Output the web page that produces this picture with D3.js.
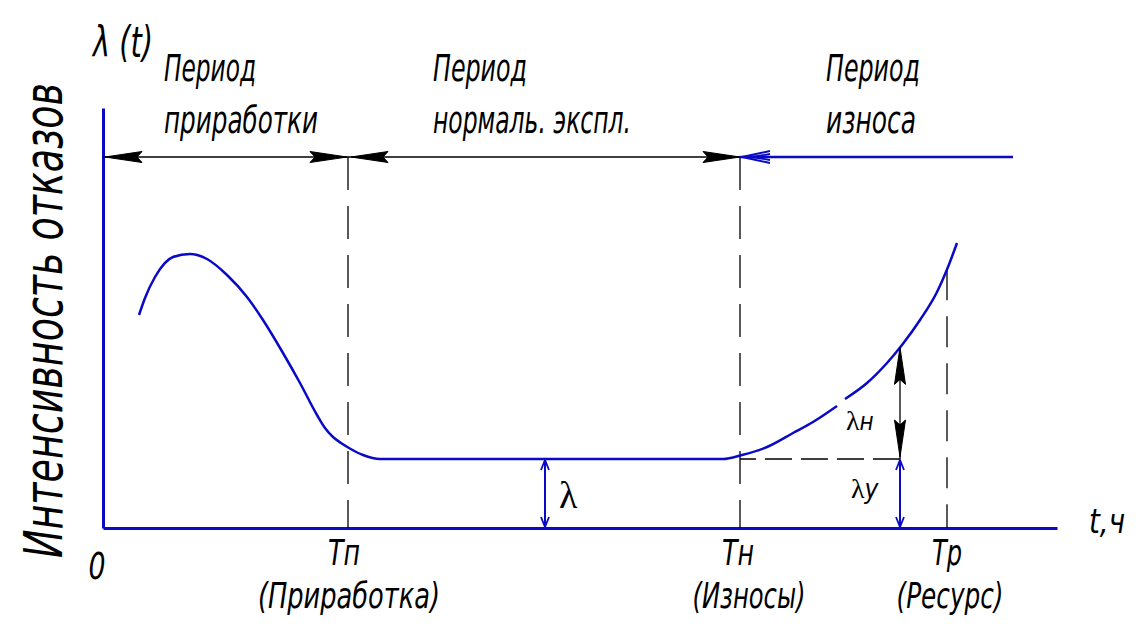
<!DOCTYPE html>
<html>
<head>
<meta charset="utf-8">
<script src="https://cdn.jsdelivr.net/npm/d3@7"></script>
<style>
  body { margin: 0; background: #fff; }
  text { font-family: "Liberation Sans Narrow", "DejaVu Sans Condensed", sans-serif; font-stretch: condensed; font-style: italic; fill: #000; }
  .greek { font-family: "Liberation Serif", "DejaVu Serif", serif; font-style: normal; font-stretch: normal; }
</style>
</head>
<body>
<svg id="chart"></svg>
<script>
// bathtub curve, time in hours (arbitrary units), failure rate in arbitrary units
const hours = [36, 42, 52, 70, 87, 104, 124, 144, 160, 180, 197, 214, 222, 230, 238, 246, 260, 277, 620, 639, 664, 690, 710, 734, 742, 764, 784, 799, 817, 834, 845, 854];
const rate  = [213, 230, 251, 271, 274, 269, 253, 231, 208, 175, 145, 113, 100, 91, 85, 80, 73, 69, 69, 73, 81, 95, 106, 122, 129, 145, 165, 183, 208, 236, 261, 285];
const gapAfter = 23; // the curve is broken between these two points

const marks = [0, 245, 637, 844];
const markNames = ["0", "Тп", "Тн", "Тр"];
const markNotes = ["", "(Приработка)", "(Износы)", "(Ресурс)"];

const periodTitles = ["Период", "Период", "Период"];
const periodNotes = ["приработки", "нормаль. экспл.", "износа"];

const lambdaLevel = 69;
const periodLevel = 371;
const wearEnd = 910;
const lambdaAt = 442;
const wearCheckAt = 797;

const blue = "#0a0ac6";
const W = 1147, H = 636;

const svg = d3.select("#chart").attr("width", W).attr("height", H);

const x = d3.scaleLinear().domain([0, 954]).range([103, 1057]);
const y = d3.scaleLinear().domain([0, 420]).range([528, 108]);

const rateAt = t => {
  const i = d3.bisectLeft(hours, t);
  if (i <= 0) return rate[0];
  if (i >= hours.length) return rate[rate.length - 1];
  const k = (t - hours[i - 1]) / (hours[i] - hours[i - 1]);
  return rate[i - 1] + k * (rate[i] - rate[i - 1]);
};

// axes
svg.append("g")
  .attr("transform", `translate(0,${y(0)})`)
  .call(d3.axisBottom(x).ticks(0).tickSizeOuter(0))
  .select(".domain").attr("stroke", blue).attr("stroke-width", 3);
svg.append("g")
  .attr("transform", `translate(${x(0)},0)`)
  .call(d3.axisLeft(y).ticks(0).tickSizeOuter(0))
  .select(".domain").attr("stroke", blue).attr("stroke-width", 3);

// dashed guide lines
const dash = "33,16";
[marks[1], marks[2]].forEach(t => {
  svg.append("line")
    .attr("x1", x(t)).attr("x2", x(t))
    .attr("y1", y(periodLevel)).attr("y2", y(0))
    .attr("stroke", "#000").attr("stroke-width", 1.3)
    .attr("stroke-dasharray", dash);
});
svg.append("line")
  .attr("x1", x(marks[3])).attr("x2", x(marks[3]))
  .attr("y1", y(rateAt(marks[3]))).attr("y2", y(0))
  .attr("stroke", "#000").attr("stroke-width", 1.3)
  .attr("stroke-dasharray", "31,16");
svg.append("line")
  .attr("x1", x(wearCheckAt)).attr("x2", x(marks[2]))
  .attr("y1", y(lambdaLevel)).attr("y2", y(lambdaLevel))
  .attr("stroke", "#000").attr("stroke-width", 1.3)
  .attr("stroke-dasharray", "27,9");

// period dimension line
svg.append("line")
  .attr("x1", x(0)).attr("x2", x(marks[2]))
  .attr("y1", y(periodLevel)).attr("y2", y(periodLevel))
  .attr("stroke", "#000").attr("stroke-width", 1.3);
svg.append("line")
  .attr("x1", x(marks[2])).attr("x2", x(wearEnd))
  .attr("y1", y(periodLevel)).attr("y2", y(periodLevel))
  .attr("stroke", blue).attr("stroke-width", 2.5);

const bigArrow = (px, py, angle) => {
  svg.append("path")
    .attr("d", "M0,0 L-37,-5.5 L-32,0 L-37,5.5 Z")
    .attr("transform", `translate(${px},${py}) rotate(${angle})`)
    .attr("fill", "#000").attr("stroke", "#000").attr("stroke-width", 1);
};
const smallArrow = (px, py, angle) => {
  svg.append("path")
    .attr("d", "M-10,-4 L0,0 L-10,4")
    .attr("transform", `translate(${px},${py}) rotate(${angle})`)
    .attr("fill", "none").attr("stroke", blue).attr("stroke-width", 1.8);
};

const py = y(periodLevel);
bigArrow(x(0) + 2, py, 180);
bigArrow(x(marks[1]) - 1, py, 0);
bigArrow(x(marks[1]) + 3, py, 180);
bigArrow(x(marks[2]), py, 0);
svg.append("path")
  .attr("d", "M30,-6 L2,0 L30,6 M30,-3 L12,0 L30,3")
  .attr("transform", `translate(${x(marks[2])},${py})`)
  .attr("fill", "none").attr("stroke", blue).attr("stroke-width", 1.8);

// bathtub curve
const pts = hours.map((h, i) => [h, rate[i]]);
const line = d3.line().x(d => x(d[0])).y(d => y(d[1])).curve(d3.curveMonotoneX);
[pts.slice(0, gapAfter + 1), pts.slice(gapAfter + 1)].forEach(part => {
  svg.append("path")
    .attr("d", line(part))
    .attr("fill", "none").attr("stroke", blue).attr("stroke-width", 2.5);
});

// λн dimension (black)
const topN = y(rateAt(wearCheckAt));
svg.append("line")
  .attr("x1", x(wearCheckAt)).attr("x2", x(wearCheckAt))
  .attr("y1", topN).attr("y2", y(lambdaLevel))
  .attr("stroke", "#000").attr("stroke-width", 1.3);
bigArrow(x(wearCheckAt), topN, -90);
bigArrow(x(wearCheckAt), y(lambdaLevel) - 2, 90);

// λу and λ dimensions (blue)
[wearCheckAt, lambdaAt].forEach(t => {
  svg.append("line")
    .attr("x1", x(t)).attr("x2", x(t))
    .attr("y1", y(lambdaLevel) + 1).attr("y2", y(0) - 1)
    .attr("stroke", blue).attr("stroke-width", 2);
  smallArrow(x(t), y(lambdaLevel) + 1, -90);
  smallArrow(x(t), y(0) - 1, 90);
});

// text helper
const label = (txt, px, py, size, len, anchor = "start") =>
  svg.append("text")
    .attr("x", px).attr("y", py)
    .attr("font-size", size)
    .attr("text-anchor", anchor)
    .attr("textLength", len)
    .attr("lengthAdjust", "spacingAndGlyphs")
    .text(txt);

// title λ(t)
label("λ (t)", 93, 57, 42, 60);

// period labels
const periodX = [164, 433, 826];
const titleW = [92, 94, 94];
const noteW = [154, 198, 90];
periodTitles.forEach((s, i) => label(s, periodX[i], 81, 37, titleW[i]));
periodNotes.forEach((s, i) => label(s, periodX[i], 133, 37, noteW[i]));

// y axis title, squeezed to the drawing's narrow lettering
const yt = svg.append("text")
  .attr("text-anchor", "middle")
  .attr("font-size", 53)
  .text("Интенсивность отказов");
const natural = yt.node().getComputedTextLength();
yt.attr("transform", `translate(62,${(558 + 83) / 2}) rotate(-90) scale(${475 / natural},1)`);

// time marks
const nameDx = [-6, -4, -2, 0];
const nameW = [17, 32, 32, 30];
const noteDx = [0, 1, 9, 3];
const noteLen = [0, 182, 113, 107];
markNames.forEach((s, i) => label(s, x(marks[i]) + nameDx[i], i === 0 ? 579 : 565, i === 0 ? 38 : 35, nameW[i], "middle"));
markNotes.forEach((s, i) => { if (s) label(s, x(marks[i]) + noteDx[i], 608, 35, noteLen[i], "middle"); });

label("t,ч", 1089, 533, 34, 36);

// λ symbols
svg.append("text").attr("class", "greek").attr("x", 559).attr("y", 508).attr("font-size", 38).text("λ");
const ln = svg.append("text").attr("x", 846).attr("y", 430).attr("font-size", 28);
ln.append("tspan").attr("class", "greek").text("λ");
ln.append("tspan").attr("font-size", 24).text("н");
const ly = svg.append("text").attr("x", 851).attr("y", 498).attr("font-size", 28);
ly.append("tspan").attr("class", "greek").text("λ");
ly.append("tspan").attr("font-size", 26).text("у");
</script>
</body>
</html>
